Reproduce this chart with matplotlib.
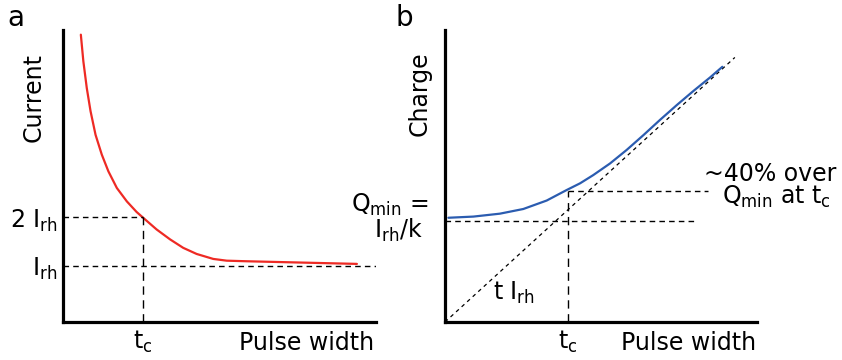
import matplotlib
matplotlib.use("Agg")
import matplotlib.pyplot as plt

W, H = 842, 360

# ---- data (schematic units: both axes 0..10) ----
# panel a: strength-duration curve
cur_x = [0.57, 0.65, 0.76, 0.88, 1.04, 1.24, 1.45, 1.72, 2.04, 2.35, 2.55,
         2.99, 3.42, 3.84, 4.27, 4.80, 5.23, 5.87, 9.39]
cur_y = [9.84, 8.93, 8.01, 7.22, 6.41, 5.73, 5.16, 4.59, 4.13, 3.77, 3.58,
         3.17, 2.83, 2.54, 2.33, 2.16, 2.10, 2.08, 1.99]
irh = 1.91
two_irh = 3.58
tc_a = 2.55
irh_line_end = 10.0

# panel b: charge-duration curve
chg_x = [0.11, 0.91, 1.76, 2.51, 3.26, 3.90, 4.33, 4.75, 5.29, 5.82, 6.36,
         6.89, 7.43, 7.96, 8.49, 8.89]
chg_y = [3.57, 3.61, 3.71, 3.87, 4.16, 4.52, 4.75, 5.03, 5.43, 5.89, 6.40,
         6.92, 7.43, 7.91, 8.37, 8.74]
diag_x = [0.0, 9.29]
diag_y = [0.0, 9.06]
qmin = 3.47
qmin_end = 8.07
q_tc = 4.50
q_tc_end = 8.44
tc_b = 3.93

fig = plt.figure(figsize=(W / 100, H / 100), dpi=100)
FS = 17
plt.rcParams['font.family'] = 'DejaVu Sans'
plt.rcParams['mathtext.fontset'] = 'dejavusans'


def px(x, y):
    return x / W, 1 - y / H


def setup(ax):
    ax.set_xlim(0, 10)
    ax.set_ylim(0, 10)
    for s in ['top', 'right']:
        ax.spines[s].set_visible(False)
    for s in ['left', 'bottom']:
        ax.spines[s].set_linewidth(2.3)
        ax.spines[s].set_capstyle('projecting')
    ax.tick_params(length=0, labelsize=FS)


dash_h = (0, (4, 3))
dash_v = (0, (6, 4))

# ---------------- panel a ----------------
axa = fig.add_axes([63 / W, 38 / H, 313 / W, 292 / H])
setup(axa)
axa.plot(cur_x, cur_y, color='#ee2a24', lw=1.6, solid_capstyle='round',
         solid_joinstyle='round')
axa.plot([0, irh_line_end], [irh, irh], color='black', lw=1.0, ls=dash_h)
axa.plot([0, tc_a], [two_irh, two_irh], color='black', lw=1.0, ls=dash_h)
axa.plot([tc_a, tc_a], [0, two_irh], color='black', lw=1.0, ls=dash_v)
axa.set_yticks([two_irh, irh], ['2 I$_\\mathregular{rh}$', 'I$_\\mathregular{rh}$'])
axa.set_xticks([tc_a], ['t$_\\mathregular{c}$'])
axa.tick_params(axis='y', pad=4)
axa.tick_params(axis='x', pad=5)

fig.text(*px(7, 26), 'a', fontsize=20, ha='left', va='baseline')
fig.text(*px(34, 98), 'Current', fontsize=FS, rotation=90, ha='center', va='center')
fig.text(*px(374, 350), 'Pulse width', fontsize=FS, ha='right', va='baseline')

# ---------------- panel b ----------------
axb = fig.add_axes([445 / W, 38 / H, 312 / W, 292 / H])
setup(axb)
axb.plot(diag_x, diag_y, color='black', lw=0.9, ls=(0, (3, 3)))
axb.plot([0, qmin_end], [qmin, qmin], color='black', lw=1.0, ls=dash_h)
axb.plot([tc_b, q_tc_end], [q_tc, q_tc], color='black', lw=1.0, ls=dash_h)
axb.plot([tc_b, tc_b], [0, q_tc], color='black', lw=1.0, ls=dash_v)
axb.plot(chg_x, chg_y, color='#2b5cb0', lw=1.6, solid_capstyle='round',
         solid_joinstyle='round')
axb.set_yticks([])
axb.set_xticks([tc_b], ['t$_\\mathregular{c}$'])
axb.tick_params(axis='x', pad=5)

fig.text(*px(395, 26), 'b', fontsize=20, ha='left', va='baseline')
fig.text(*px(420, 94), 'Charge', fontsize=FS, rotation=90, ha='center', va='center')
fig.text(*px(756, 350), 'Pulse width', fontsize=FS, ha='right', va='baseline')
fig.text(*px(390, 212), 'Q$_\\mathregular{min}$ =', fontsize=FS, ha='center', va='baseline')
fig.text(*px(398, 238), 'I$_\\mathregular{rh}$/k', fontsize=FS, ha='center', va='baseline')
fig.text(*px(770, 181), '~40% over', fontsize=FS, ha='center', va='baseline')
fig.text(*px(776, 204), 'Q$_\\mathregular{min}$ at t$_\\mathregular{c}$', fontsize=FS,
         ha='center', va='baseline')
fig.text(*px(493, 300), 't I$_\\mathregular{rh}$', fontsize=FS, ha='left', va='baseline')

fig.savefig('out.png', dpi=100)
